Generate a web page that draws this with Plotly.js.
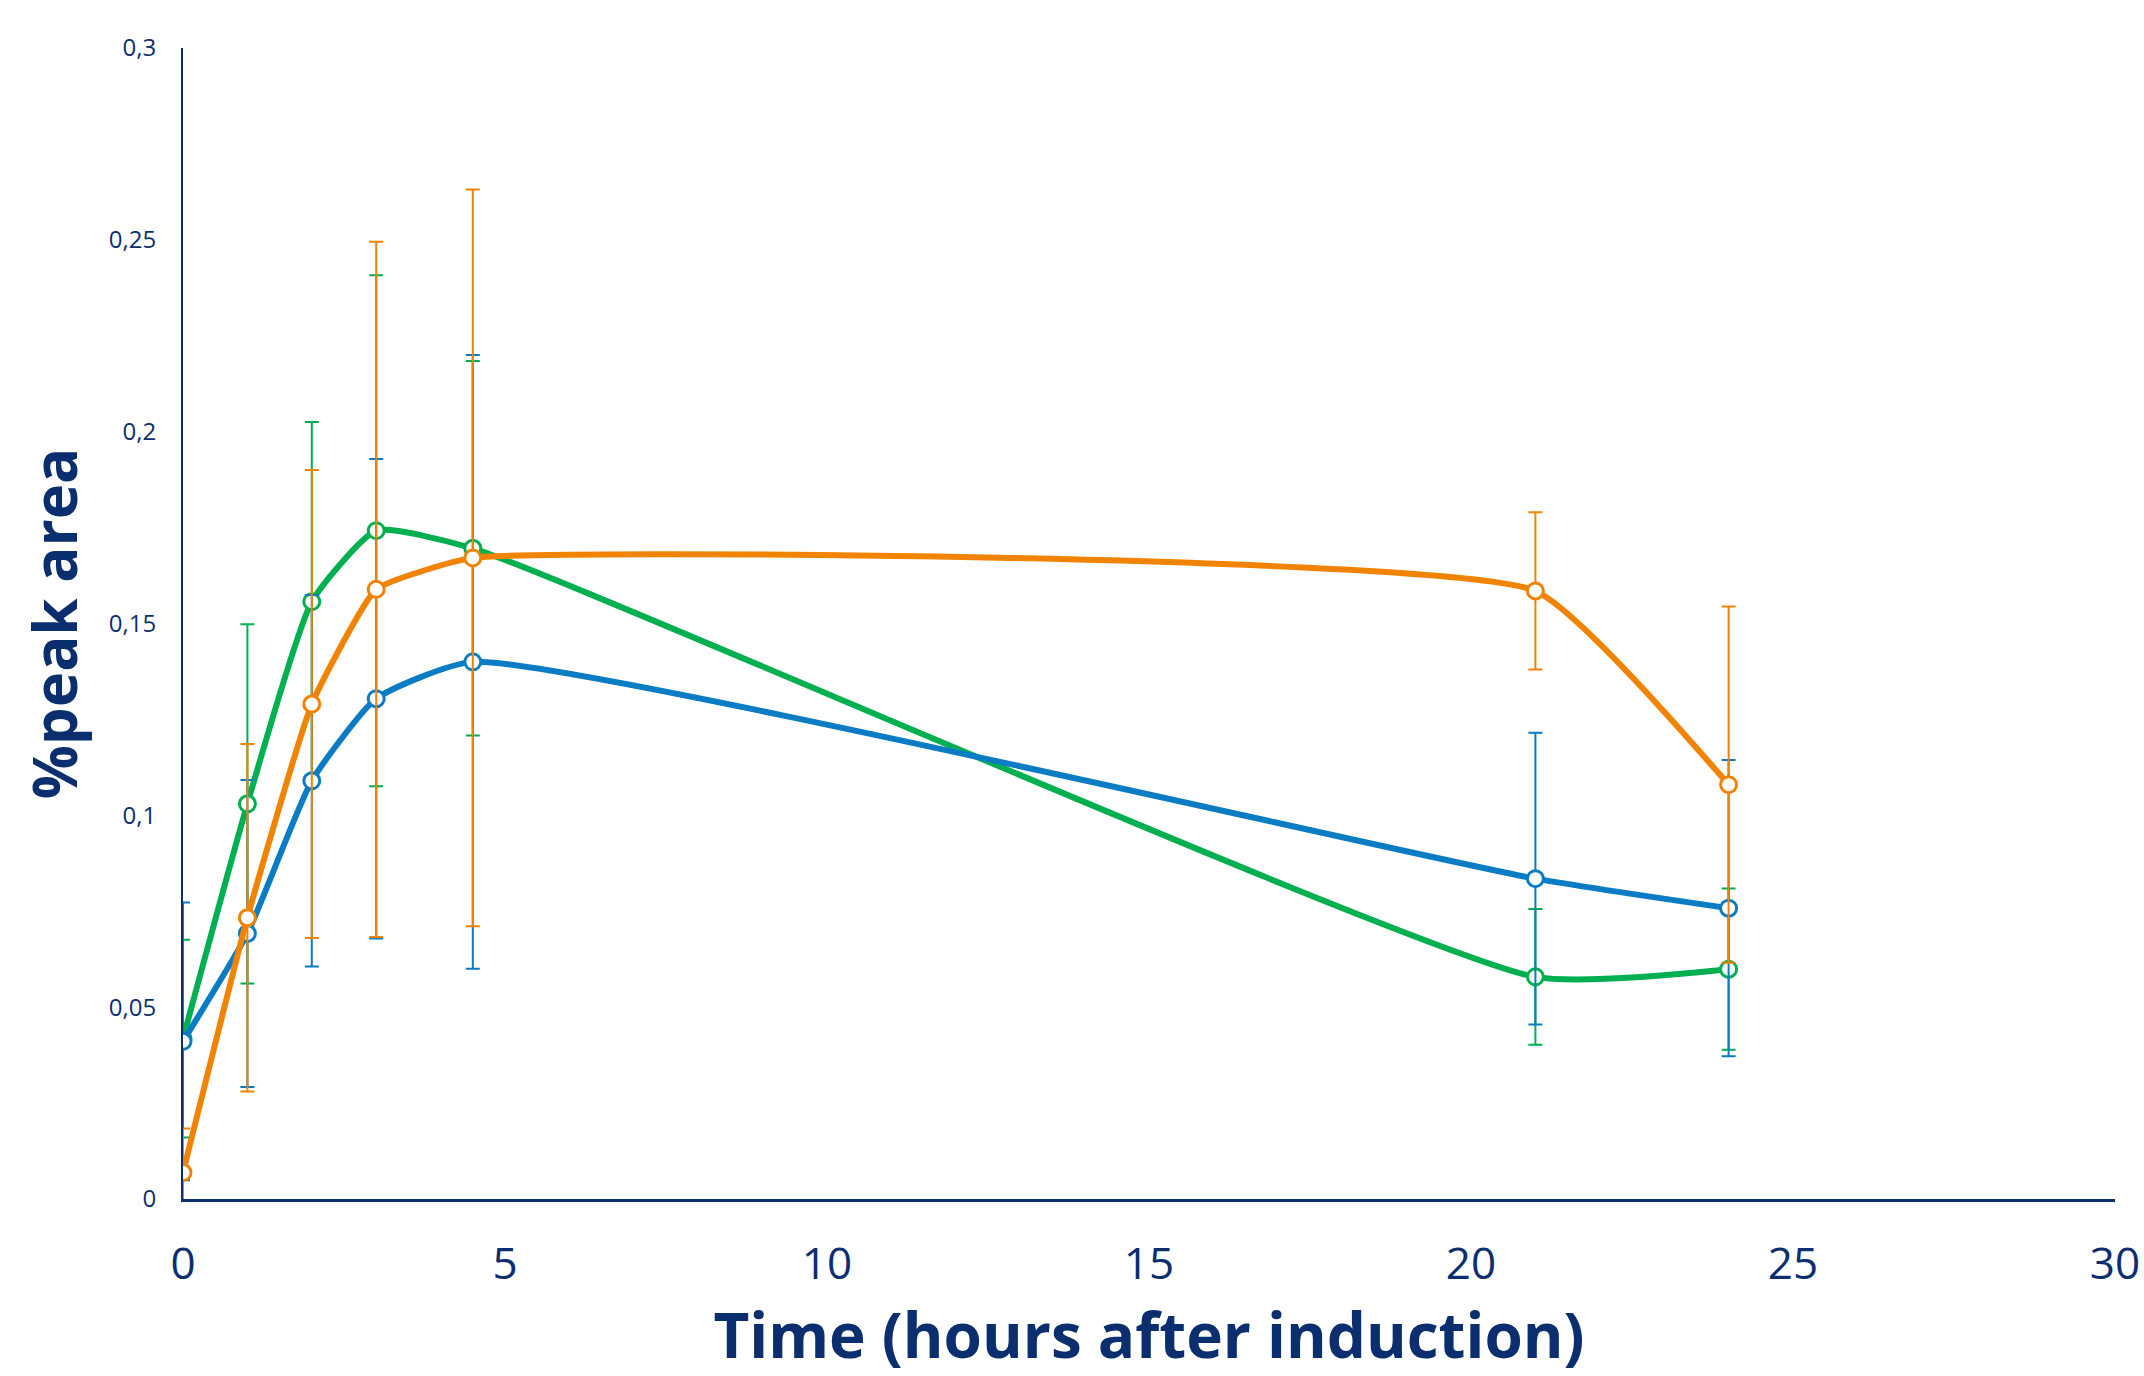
<!DOCTYPE html>
<html>
<head>
<meta charset="utf-8">
<script src="https://cdn.plot.ly/plotly-3.0.1.min.js"></script>
<style>
  html, body { margin: 0; padding: 0; background: #ffffff; }
  #chart { width: 2144px; height: 1376px; }
</style>
</head>
<body>
<div id="chart"></div>
<script>
// Time points (hours after induction)
const timeHours = [0, 1, 2, 3, 4.5, 21, 24];

// Series values (%peak area) and error bar half-widths
const greenValues  = [0.0418, 0.1030, 0.1557, 0.1742, 0.1696, 0.0579, 0.0599];
const greenErrors  = [0.0258, 0.0468, 0.0468, 0.0666, 0.0488, 0.0177, 0.0210];

const blueValues   = [0.0411, 0.0692, 0.1090, 0.1304, 0.1400, 0.0835, 0.0758];
const blueErrors   = [0.0362, 0.0400, 0.0484, 0.0625, 0.0800, 0.0380, 0.0386];

const orangeValues = [0.0069, 0.0733, 0.1290, 0.1589, 0.1671, 0.1585, 0.1080];
const orangeErrors = [0.0115, 0.0453, 0.0610, 0.0906, 0.0960, 0.0205, 0.0464];

const yTickValues = [0, 0.05, 0.1, 0.15, 0.2, 0.25, 0.3];
const xTickValues = [0, 5, 10, 15, 20, 25, 30];

const navy = '#0b2f6e';

function series(values, errors, color, smooth) {
  return {
    x: timeHours,
    y: values,
    type: 'scatter',
    mode: 'lines+markers',
    line: { color: color, width: 6, shape: 'spline', smoothing: smooth },
    marker: { symbol: 'circle', size: 16, color: '#ffffff', line: { color: color, width: 3 } },
    error_y: { type: 'data', array: errors, visible: true, color: color, thickness: 2, width: 7 },
    showlegend: false,
    hoverinfo: 'x+y'
  };
}

const data = [
  series(greenValues, greenErrors, '#00b050', 0.5),
  series(blueValues, blueErrors, '#0a7cc4', 0.5),
  series(orangeValues, orangeErrors, '#f08300', 0.4)
];

const layout = {
  width: 2144,
  height: 1376,
  paper_bgcolor: '#ffffff',
  plot_bgcolor: '#ffffff',
  separators: ', ',
  margin: { l: 183, r: 29, t: 48, b: 177, pad: 0 },
  font: { family: 'Open Sans, sans-serif', color: navy },
  xaxis: {
    range: [0, 30],
    tickvals: xTickValues,
    showgrid: false,
    zeroline: false,
    showline: true,
    linecolor: navy,
    linewidth: 3,
    ticks: '',
    ticklabelstandoff: 24,
    tickfont: { family: 'Open Sans, sans-serif', size: 44, color: navy },
    title: {
      text: 'Time (hours after induction)',
      font: { family: 'Open Sans, sans-serif', size: 62, color: navy, weight: 'bold' },
      standoff: 36
    }
  },
  yaxis: {
    range: [0, 0.3],
    tickvals: yTickValues,
    showgrid: false,
    zeroline: false,
    showline: true,
    linecolor: navy,
    linewidth: 2,
    ticks: '',
    ticklabelstandoff: 20,
    tickfont: { family: 'Open Sans, sans-serif', size: 24, color: navy },
    title: {
      text: '%peak area',
      font: { family: 'Open Sans, sans-serif', size: 60, color: navy, weight: 'bold' },
      standoff: 12
    }
  }
};

Plotly.newPlot('chart', data, layout, { displayModeBar: false, staticPlot: true });
</script>
</body>
</html>
